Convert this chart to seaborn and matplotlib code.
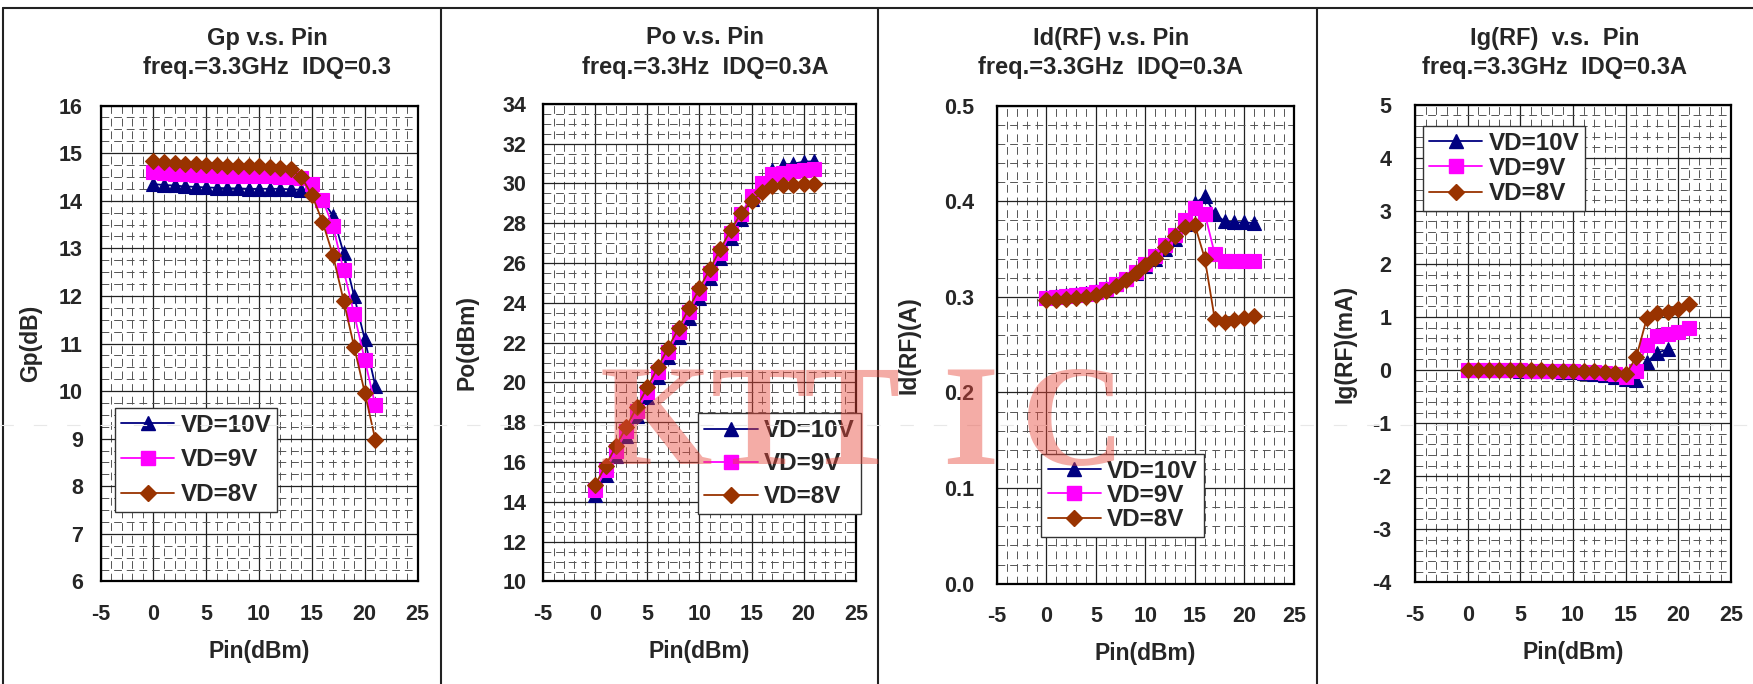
import matplotlib
matplotlib.use('Agg')
import matplotlib.pyplot as plt
from matplotlib.lines import Line2D
from matplotlib.ticker import MultipleLocator, FormatStrFormatter
import matplotlib.colors as mcolors
import pandas as pd
import seaborn as sns

# ---- data ----
pin = list(range(22))
pin_ig_10v = list(range(20))

gp_10v = [14.35, 14.33, 14.32, 14.30, 14.29, 14.28, 14.27, 14.26, 14.26, 14.25, 14.25,
          14.25, 14.25, 14.24, 14.23, 14.22, 14.02, 13.68, 12.90, 11.99, 11.09, 10.11]
gp_9v = [14.60, 14.58, 14.57, 14.56, 14.55, 14.54, 14.53, 14.53, 14.52, 14.52, 14.51,
         14.51, 14.50, 14.50, 14.48, 14.35, 14.02, 13.46, 12.54, 11.62, 10.66, 9.70]
gp_8v = [14.84, 14.82, 14.80, 14.78, 14.77, 14.76, 14.75, 14.74, 14.73, 14.73, 14.72,
         14.70, 14.69, 14.66, 14.50, 14.12, 13.56, 12.85, 11.90, 10.93, 9.97, 8.98]

po_10v = [14.35, 15.33, 16.32, 17.30, 18.29, 19.28, 20.27, 21.26, 22.26, 23.25, 24.25,
          25.25, 26.25, 27.24, 28.23, 29.22, 30.02, 30.68, 30.90, 30.99, 31.09, 31.11]
po_9v = [14.60, 15.58, 16.57, 17.56, 18.55, 19.54, 20.53, 21.53, 22.52, 23.52, 24.51,
         25.51, 26.50, 27.50, 28.48, 29.35, 30.02, 30.46, 30.54, 30.62, 30.66, 30.70]
po_8v = [14.84, 15.82, 16.80, 17.78, 18.77, 19.76, 20.75, 21.74, 22.73, 23.73, 24.72,
         25.70, 26.69, 27.66, 28.50, 29.12, 29.56, 29.85, 29.90, 29.93, 29.97, 29.98]

id_10v = [0.300, 0.301, 0.302, 0.303, 0.304, 0.306, 0.309, 0.313, 0.319, 0.325, 0.332,
          0.340, 0.350, 0.361, 0.376, 0.398, 0.405, 0.387, 0.379, 0.378, 0.378, 0.377]
id_9v = [0.299, 0.300, 0.301, 0.302, 0.303, 0.305, 0.308, 0.313, 0.319, 0.326, 0.334,
         0.343, 0.354, 0.365, 0.380, 0.393, 0.387, 0.345, 0.337, 0.337, 0.337, 0.337]
id_8v = [0.297, 0.297, 0.298, 0.299, 0.300, 0.302, 0.306, 0.311, 0.318, 0.325, 0.333,
         0.341, 0.352, 0.364, 0.373, 0.375, 0.340, 0.277, 0.274, 0.276, 0.278, 0.280]

ig_10v = [0.0, 0.0, 0.0, 0.0, 0.0, -0.01, -0.01, -0.02, -0.02, -0.03, -0.04,
          -0.05, -0.07, -0.10, -0.13, -0.17, -0.18, 0.15, 0.33, 0.39]
ig_9v = [0.0, 0.0, 0.0, 0.0, 0.0, 0.0, -0.01, -0.01, -0.01, -0.02, -0.02,
         -0.03, -0.04, -0.05, -0.08, -0.13, -0.01, 0.48, 0.64, 0.68, 0.72, 0.79]
ig_8v = [0.0, 0.0, 0.0, 0.0, 0.0, 0.0, 0.0, 0.0, -0.01, -0.01, -0.01,
         -0.02, -0.02, -0.03, -0.05, -0.08, 0.24, 0.98, 1.07, 1.10, 1.16, 1.24]

series = ['VD=10V', 'VD=9V', 'VD=8V']
colors = {'VD=10V': '#000080', 'VD=9V': '#FF00FF', 'VD=8V': '#993300'}
markers = {'VD=10V': '^', 'VD=9V': 's', 'VD=8V': 'D'}
msizes = {'VD=10V': 10.0, 'VD=9V': 9.5, 'VD=8V': 8.5}


def long_df(xs, ys):
    rows = []
    for s, x, y in zip(series, xs, ys):
        rows += [{'Pin': a, 'val': b, 'VD': s} for a, b in zip(x, y)]
    return pd.DataFrame(rows)


panels = [
    dict(df=long_df([pin, pin, pin], [gp_10v, gp_9v, gp_8v]),
         rect=[0.0574, 0.1499, 0.1808, 0.6958], ylim=(6, 16), major=1, minor=0.25, fmt='%d',
         ylabel='Gp(dB)', ylab_x=-0.185, ypad=12.7,
         t1='Gp v.s. Pin', t2='freq.=3.3GHz  IDQ=0.3', tx=267,
         leg=(0.045, 0.365), ls=0.48),
    dict(df=long_df([pin, pin, pin], [po_10v, po_9v, po_8v]),
         rect=[0.3098, 0.1499, 0.1784, 0.6984], ylim=(10, 34), major=2, minor=0.5, fmt='%d',
         ylabel='Po(dBm)', ylab_x=-0.208, ypad=12,
         t1='Po v.s. Pin', t2='freq.=3.3Hz  IDQ=0.3A', tx=705,
         leg=(0.496, 0.352), ls=0.41),
    dict(df=long_df([pin, pin, pin], [id_10v, id_9v, id_8v]),
         rect=[0.5687, 0.1466, 0.1694, 0.6990], ylim=(0, 0.5), major=0.1, minor=0.02, fmt='%.1f',
         ylabel='Id(RF)(A)', ylab_x=-0.259, ypad=16.5,
         t1='Id(RF) v.s. Pin', t2='freq.=3.3GHz  IDQ=0.3A', tx=1111,
         leg=(0.150, 0.272), ls=0.05),
    dict(df=long_df([pin_ig_10v, pin, pin], [ig_10v, ig_9v, ig_8v]),
         rect=[0.8072, 0.1485, 0.1803, 0.6984], ylim=(-4, 5), major=1, minor=0.2, fmt='%d',
         ylabel='Ig(RF)(mA)', ylab_x=-0.184, ypad=17,
         t1='Ig(RF)  v.s.  Pin', t2='freq.=3.3GHz  IDQ=0.3A', tx=1555,
         leg=(0.025, 0.956), ls=0.09),
]

sns.set_theme(style='white')
plt.rcParams['font.family'] = ['Liberation Sans', 'DejaVu Sans']
plt.rcParams['font.weight'] = 'bold'
plt.rcParams['axes.labelweight'] = 'bold'
plt.rcParams['axes.unicode_minus'] = False

W, H = 1753, 684
fig = plt.figure(figsize=(W / 100, H / 100), dpi=100)
fig.patch.set_facecolor('white')

for p in panels:
    ax = fig.add_axes(p['rect'])
    sns.lineplot(data=p['df'], x='Pin', y='val', hue='VD', style='VD',
                 hue_order=series, style_order=series, palette=colors,
                 markers=markers, dashes=False, errorbar=None, sort=False,
                 linewidth=1.3, legend=False, ax=ax)
    for line in ax.get_lines():
        c = mcolors.to_hex(line.get_color())
        for s in series:
            if mcolors.to_hex(colors[s]) == c:
                line.set_markersize(msizes[s])
        line.set_markeredgecolor(line.get_color())
        line.set_markeredgewidth(0.8)

    ax.set_xlim(-5, 25)
    ax.set_ylim(*p['ylim'])
    ax.xaxis.set_major_locator(MultipleLocator(5))
    ax.xaxis.set_minor_locator(MultipleLocator(1))
    ax.yaxis.set_major_locator(MultipleLocator(p['major']))
    ax.yaxis.set_minor_locator(MultipleLocator(p['minor']))
    ax.yaxis.set_major_formatter(FormatStrFormatter(p['fmt']))
    ax.set_axisbelow(True)
    ax.grid(which='major', color='#222222', linewidth=0.9, linestyle='-')
    ax.grid(which='minor', color='#555555', linewidth=0.7, linestyle=(0, (8, 5)))
    ax.tick_params(which='both', length=0, labelsize=15.5)
    ax.tick_params(axis='x', pad=16)
    ax.tick_params(axis='y', pad=p['ypad'])
    for sp in ax.spines.values():
        sp.set_visible(True)
        sp.set_color('black')
        sp.set_linewidth(1.6)

    ax.set_xlabel('Pin(dBm)', fontsize=16.5, labelpad=11)
    ax.set_ylabel(p['ylabel'], fontsize=16.5)
    ax.yaxis.set_label_coords(p['ylab_x'], 0.5)

    handles = [Line2D([], [], color=colors[s], marker=markers[s], markersize=msizes[s],
                      markeredgecolor=colors[s], linewidth=1.3) for s in series]
    leg = ax.legend(handles, series, loc='upper left', bbox_to_anchor=p['leg'],
                    borderaxespad=0, frameon=True, fancybox=False, framealpha=1,
                    edgecolor='#333333', prop={'size': 17.5, 'weight': 'bold'},
                    handlelength=2.2, handletextpad=0.25, labelspacing=p['ls'],
                    borderpad=0.25)
    leg.get_frame().set_linewidth(1.0)

    fig.text(p['tx'] / W, 1 - 38 / H, p['t1'], fontsize=17, ha='center', va='center')
    fig.text(p['tx'] / W, 1 - 67.6 / H, p['t2'], fontsize=17, ha='center', va='center')

# panel frame lines
frame_kw = dict(color='#222222', linewidth=1.5, transform=fig.transFigure)
fig.add_artist(Line2D([3 / W, 1], [1 - 8 / H, 1 - 8 / H], **frame_kw))
for xp in [3, 441, 878, 1317]:
    fig.add_artist(Line2D([xp / W, xp / W], [0, 1 - 8 / H], **frame_kw))

# watermark
fig.add_artist(Line2D([0, 1], [1 - 425 / H, 1 - 425 / H], color='#e8e8e8', linewidth=0.8,
                      linestyle=(0, (12, 18)), transform=fig.transFigure, zorder=5))
for ch, xc in zip('KTTIC', [656, 759, 852, 970, 1073]):
    fig.text(xc / W, 1 - 430 / H, ch, fontsize=104, family='Liberation Serif',
             weight='bold', color='#E8473A', alpha=0.45, ha='center', va='center', zorder=6)

fig.savefig('out.png', dpi=100, facecolor='white')
